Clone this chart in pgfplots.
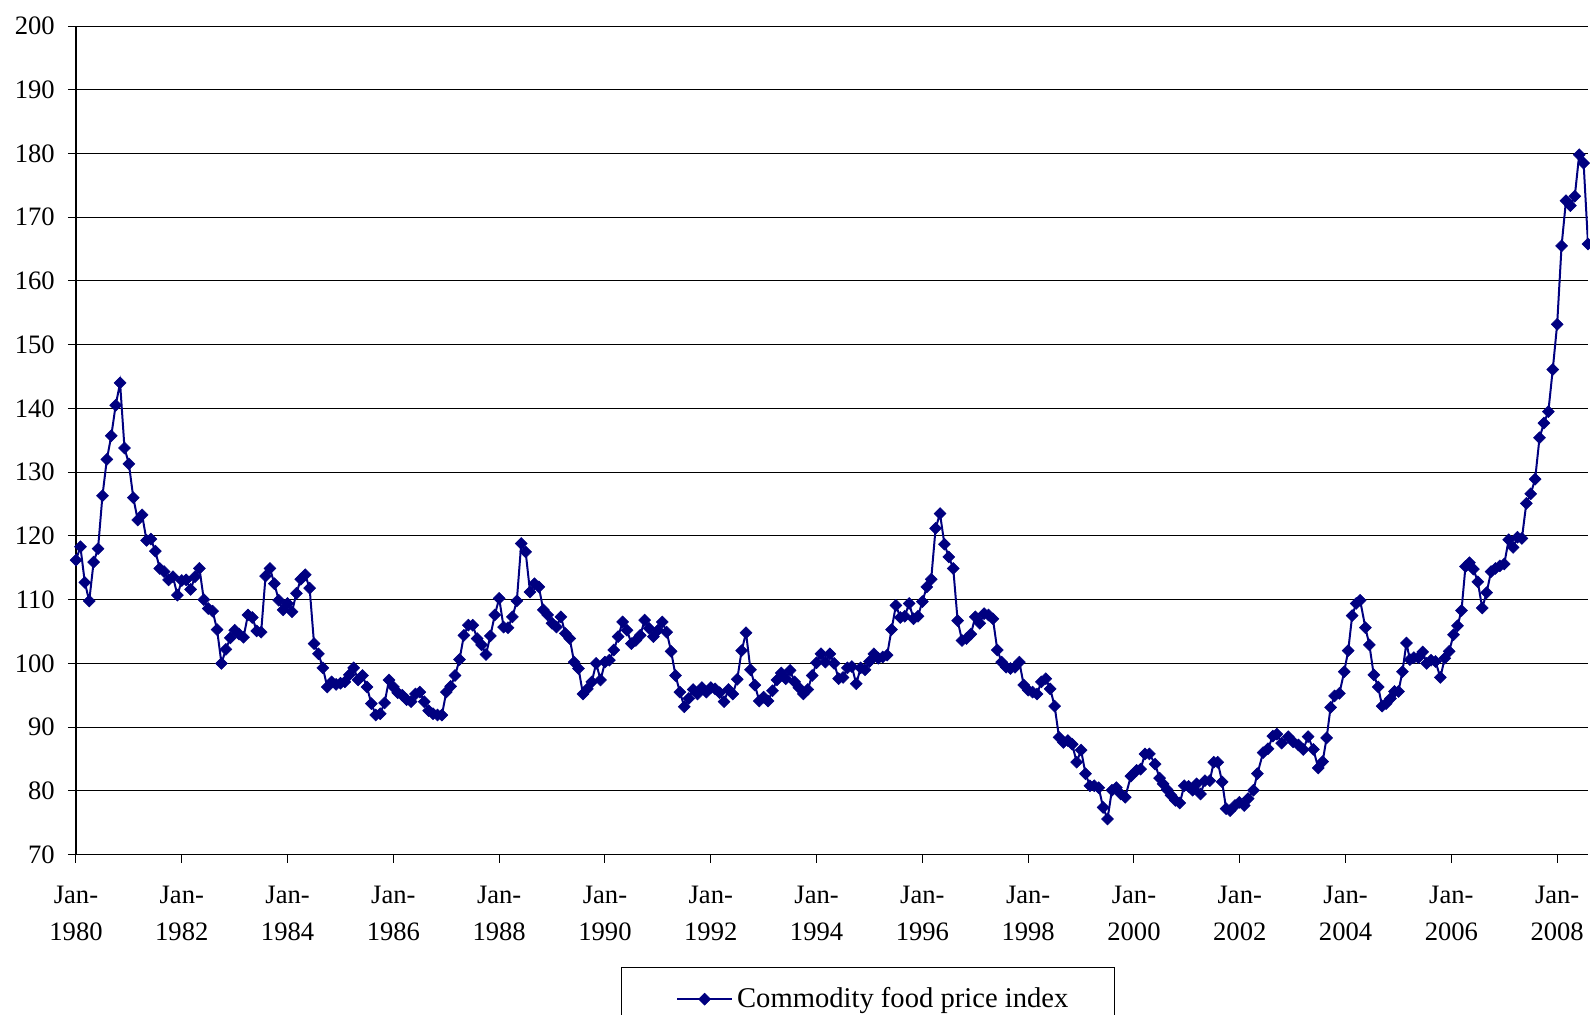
\documentclass[border=0pt]{standalone}
\usepackage{fontspec}
\setmainfont{Liberation Serif}
\usepackage{pgfplots}
\usepackage{pgfplotstable}
\pgfplotsset{compat=1.18}
\definecolor{navyline}{RGB}{0,0,128}
\pgfplotstableread{
m v
0 116.2
1 118.3
2 112.7
3 109.8
4 115.9
5 118.0
6 126.3
7 132.0
8 135.7
9 140.5
10 144.0
11 133.8
12 131.3
13 126.0
14 122.5
15 123.3
16 119.3
17 119.5
18 117.6
19 114.9
20 114.4
21 113.1
22 113.6
23 110.7
24 113.0
25 113.1
26 111.6
27 113.6
28 114.9
29 110.0
30 108.6
31 108.2
32 105.3
33 100.0
34 102.2
35 104.0
36 105.2
37 104.6
38 104.1
39 107.6
40 107.2
41 105.1
42 104.9
43 113.7
44 114.9
45 112.5
46 109.9
47 108.4
48 109.4
49 108.1
50 111.0
51 113.2
52 113.9
53 111.8
54 103.1
55 101.5
56 99.3
57 96.3
58 97.1
59 96.7
60 96.9
61 97.1
62 98.2
63 99.3
64 97.4
65 98.1
66 96.3
67 93.7
68 91.9
69 92.1
70 93.8
71 97.4
72 96.3
73 95.4
74 95.0
75 94.3
76 94.0
77 95.2
78 95.5
79 94.0
80 92.6
81 92.1
82 91.9
83 91.9
84 95.5
85 96.4
86 98.1
87 100.6
88 104.4
89 106.0
90 106.0
91 103.9
92 102.9
93 101.4
94 104.3
95 107.6
96 110.2
97 105.7
98 105.6
99 107.3
100 109.8
101 118.8
102 117.5
103 111.2
104 112.5
105 112.0
106 108.4
107 107.6
108 106.3
109 105.7
110 107.3
111 104.7
112 103.9
113 100.2
114 99.2
115 95.2
116 96.0
117 97.1
118 100.0
119 97.4
120 100.2
121 100.5
122 102.1
123 104.2
124 106.5
125 105.2
126 103.1
127 103.6
128 104.4
129 106.8
130 105.5
131 104.2
132 105.2
133 106.5
134 104.9
135 101.9
136 98.1
137 95.5
138 93.2
139 94.5
140 95.9
141 95.2
142 96.2
143 95.5
144 96.2
145 96.0
146 95.4
147 94.0
148 95.9
149 95.2
150 97.5
151 102.0
152 104.8
153 99.0
154 96.6
155 94.1
156 94.7
157 94.1
158 95.7
159 97.4
160 98.5
161 97.6
162 98.9
163 97.1
164 96.2
165 95.2
166 95.9
167 98.1
168 100.1
169 101.5
170 100.2
171 101.5
172 100.0
173 97.6
174 97.8
175 99.3
176 99.5
177 96.8
178 99.3
179 99.0
180 100.3
181 101.5
182 100.8
183 101.0
184 101.3
185 105.3
186 109.1
187 107.2
188 107.4
189 109.4
190 107.0
191 107.4
192 109.7
193 112.0
194 113.2
195 121.2
196 123.5
197 118.7
198 116.7
199 114.9
200 106.7
201 103.6
202 103.9
203 104.6
204 107.3
205 106.3
206 107.8
207 107.6
208 107.0
209 102.1
210 100.2
211 99.4
212 99.2
213 99.4
214 100.2
215 96.6
216 95.8
217 95.5
218 95.2
219 97.1
220 97.6
221 96.0
222 93.3
223 88.4
224 87.6
225 87.9
226 87.3
227 84.5
228 86.4
229 82.7
230 80.8
231 80.8
232 80.5
233 77.4
234 75.6
235 80.1
236 80.5
237 79.5
238 79.0
239.3 82.3
240.6 83.2
241.5 83.4
242.5 85.8
243.5 85.8
244.8 84.2
245.8 82.0
246.6 81.1
247.5 80.2
248.4 79.3
249.4 78.5
250.4 78.1
251.4 80.8
252.4 80.7
253.3 80.1
254.2 81.1
255.1 79.5
256.1 81.6
257.2 81.6
258.1 84.5
259.0 84.5
260.0 81.4
260.9 77.2
261.8 76.9
262.9 77.7
263.9 78.2
265.0 77.7
265.9 78.8
267.1 80.1
268.0 82.7
269.3 86.0
270.4 86.6
271.5 88.6
272.4 88.9
273.5 87.5
275.0 88.5
276.1 87.7
277.3 87.2
278.4 86.5
279.5 88.5
280.7 86.5
281.8 83.6
282.8 84.6
283.7 88.3
284.6 93.1
285.5 94.9
286.6 95.3
287.7 98.7
288.6 102.0
289.5 107.5
290.4 109.4
291.3 109.9
292.5 105.6
293.4 102.9
294.4 98.2
295.4 96.3
296.3 93.3
297.2 93.7
298.2 94.5
299.1 95.6
300.0 95.6
300.9 98.7
301.8 103.2
302.6 100.6
303.5 100.9
304.5 100.9
305.5 101.8
306.4 100.0
307.4 100.5
308.4 100.3
309.5 97.8
310.5 100.8
311.5 101.9
312.5 104.5
313.4 105.9
314.3 108.3
315.2 115.2
316.1 115.8
317.0 114.8
318.0 112.8
319.0 108.7
320.0 111.1
321.0 114.4
322.0 114.9
323.0 115.3
324.0 115.6
325.0 119.4
326.0 118.2
327.0 119.8
328.0 119.6
329 125.1
330 126.6
331 128.9
332 135.4
333 137.7
334 139.5
335 146.1
336 153.2
337 165.5
338 172.6
339 171.8
340 173.3
341 179.8
342 178.5
343 165.8
}\foodtable
\begin{document}
\fontsize{13.3}{16}\selectfont
\begin{tikzpicture}
\begin{axis}[
  at={(0,0)}, anchor=south west,
  scale only axis,
  width=756pt, height=414.3pt,
  xmin=0, xmax=343, ymin=70, ymax=200,
  axis x line*=bottom, axis y line*=left,
  axis line style={black, line width=0.6pt},
  xtick={0,24,...,336},
  xticklabels={{Jan-\\1980},{Jan-\\1982},{Jan-\\1984},{Jan-\\1986},{Jan-\\1988},{Jan-\\1990},{Jan-\\1992},{Jan-\\1994},{Jan-\\1996},{Jan-\\1998},{Jan-\\2000},{Jan-\\2002},{Jan-\\2004},{Jan-\\2006},{Jan-\\2008}},
  xticklabel style={align=center, font=\fontsize{13.3}{18.5}\selectfont, yshift=-7pt},
  ytick={70,80,...,200},
  yticklabel style={font=\fontsize{13.3}{16}\selectfont, xshift=-2pt},
  /pgf/number format/assume math mode=true,
  tick align=outside,
  major tick length=4pt,
  tick style={black, line width=0.5pt},
  minor tick num=0,
  ymajorgrids,
  major grid style={black, line width=0.5pt},
  legend style={at={(0.3602,-0.1352)}, anchor=north west, draw=black, line width=0.5pt,
    inner xsep=21pt, inner ysep=8pt, font=\fontsize{14.3}{17}\selectfont},
  legend cell align=left,
  legend image code/.code={\path (0pt,0pt); \draw[mark repeat=2,mark phase=2,#1] plot coordinates {(6.5pt,0pt) (20.25pt,0pt) (34pt,0pt)};},
]
\addplot[color=navyline, line width=1pt, mark=square*, mark size=2.1pt,
  mark options={rotate=45, fill=navyline, draw=navyline, line width=0.3pt}]
  table[x=m, y=v] {\foodtable};
\addlegendentry{Commodity food price index}
\end{axis}
\pgfresetboundingbox
\useasboundingbox (-38pt,-79.7pt) rectangle (757pt,427.3pt);
\end{tikzpicture}
\end{document}
